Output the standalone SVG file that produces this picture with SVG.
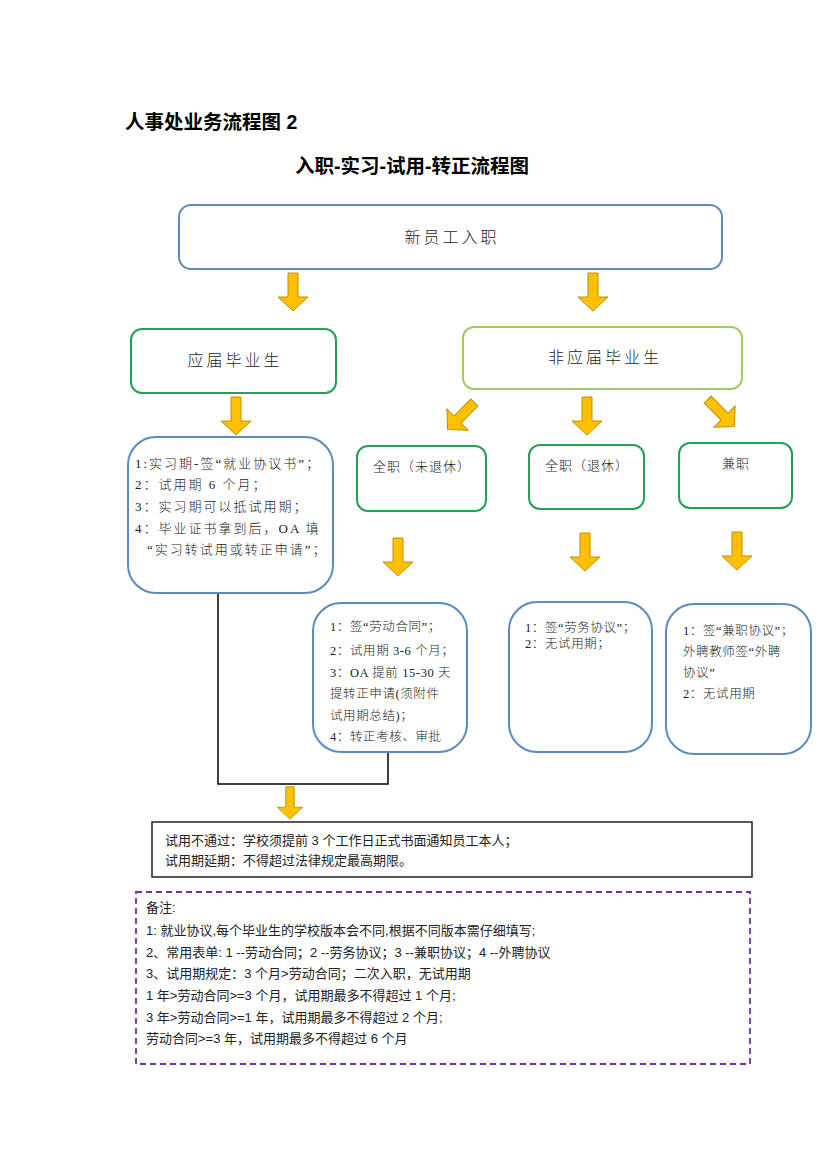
<svg xmlns="http://www.w3.org/2000/svg" width="827" height="1170" viewBox="0 0 827 1170">
<style>
.bg{fill:#ffffff}
.blue{fill:#ffffff;stroke:#5b8cc0;stroke-width:2}
.dg{fill:#ffffff;stroke:#23a055;stroke-width:2}
.lg{fill:#ffffff;stroke:#9dcc63;stroke-width:2}
.title{font-family:"Liberation Sans","Noto Sans CJK SC",sans-serif;font-weight:bold;fill:#000}
.h{font-family:"Liberation Serif","Noto Sans CJK SC",serif;font-size:16px;letter-spacing:3px;fill:#222;text-anchor:middle;font-weight:300}
.m{font-family:"Liberation Serif","Noto Sans CJK SC",serif;font-size:13px;letter-spacing:1px;fill:#222;text-anchor:middle;font-weight:300}
.t1{font-family:"Liberation Serif","Noto Sans CJK SC",serif;font-size:13px;letter-spacing:2px;fill:#222;font-weight:300}
.t2{font-family:"Liberation Serif","Noto Sans CJK SC",serif;font-size:12.5px;letter-spacing:0.6px;fill:#222;font-weight:300}
.s{font-family:"Liberation Sans","Noto Sans CJK SC",sans-serif;font-size:13px;fill:#222}
.conn{fill:none;stroke:#000;stroke-width:1.5}
.arrow{fill:#ffc000;stroke:#bf9000;stroke-width:1}
</style>
<defs>
<path id="arr" class="arrow" d="M-5,-19 H5 V5 H15 L0,19 L-15,5 H-5 Z"/>
</defs>
<rect class="bg" x="0" y="0" width="827" height="1170"/>

<g id="titles">
<text class="title" x="125" y="129" font-size="19.5">人事处业务流程图 2</text>
<text class="title" x="412" y="173" font-size="19.5" text-anchor="middle">入职-实习-试用-转正流程图</text>
</g>

<g id="connectors">
<path class="conn" d="M218,593 V784 H388 V752"/>
<use href="#arr" transform="translate(293,292)"/>
<use href="#arr" transform="translate(593,292)"/>
<use href="#arr" transform="translate(236,416)"/>
<use href="#arr" transform="translate(461,416) rotate(45)"/>
<use href="#arr" transform="translate(587,416)"/>
<use href="#arr" transform="translate(721,413) rotate(-45)"/>
<use href="#arr" transform="translate(398,557)"/>
<use href="#arr" transform="translate(585,552)"/>
<use href="#arr" transform="translate(737,551)"/>
<use href="#arr" transform="translate(290,803) scale(0.85)"/>
</g>

<g id="n-new">
<rect class="blue" x="179" y="205" width="543" height="64" rx="12"/>
<text class="h" x="452" y="243">新员工入职</text>
</g>

<g id="n-grad">
<rect class="dg" x="131" y="329" width="205" height="64" rx="11"/>
<text class="h" x="235" y="366">应届毕业生</text>
</g>

<g id="n-nongrad">
<rect class="lg" x="463" y="327" width="279" height="62" rx="11"/>
<text class="h" x="605" y="363">非应届毕业生</text>
</g>

<g id="n-grad-detail">
<rect class="blue" x="128" y="437" width="205" height="156" rx="28"/>
<text class="t1" x="135" y="468">1:实习期-签“就业协议书”；</text>
<text class="t1" x="135" y="489">2：试用期 6 个月；</text>
<text class="t1" x="135" y="511">3：实习期可以抵试用期；</text>
<text class="t1" x="135" y="533">4：毕业证书拿到后，OA 填</text>
<text class="t1" x="147" y="554">“实习转试用或转正申请”；</text>
</g>

<g id="n-full">
<rect class="dg" x="357" y="446" width="129" height="65" rx="11"/>
<text class="m" x="422" y="471">全职（未退休）</text>
</g>

<g id="n-retired">
<rect class="dg" x="529" y="445" width="115" height="64" rx="11"/>
<text class="m" x="587" y="470">全职（退休）</text>
</g>

<g id="n-part">
<rect class="dg" x="679" y="443" width="113" height="65" rx="11"/>
<text class="m" x="736" y="468">兼职</text>
</g>

<g id="n-full-detail">
<rect class="blue" x="313" y="603" width="154" height="149" rx="28"/>
<text class="t2" x="330" y="631">1：签“劳动合同”；</text>
<text class="t2" x="330" y="655">2：试用期 3-6 个月；</text>
<text class="t2" x="330" y="677">3：OA 提前 15-30 天</text>
<text class="t2" x="330" y="698">提转正申请(须附件</text>
<text class="t2" x="330" y="720">试用期总结)；</text>
<text class="t2" x="330" y="741">4：转正考核、审批</text>
</g>

<g id="n-retired-detail">
<rect class="blue" x="509" y="602" width="143" height="150" rx="28"/>
<text class="t2" x="525" y="632">1：签“劳务协议”；</text>
<text class="t2" x="525" y="648">2：无试用期；</text>
</g>

<g id="n-part-detail">
<rect class="blue" x="666" y="604" width="145" height="150" rx="28"/>
<text class="t2" x="683" y="635">1：签“兼职协议”；</text>
<text class="t2" x="683" y="656">外聘教师签“外聘</text>
<text class="t2" x="683" y="677">协议”</text>
<text class="t2" x="683" y="698">2：无试用期</text>
</g>

<g id="n-result">
<rect x="152" y="822" width="600" height="55" fill="#fff" stroke="#222" stroke-width="1.5"/>
<text class="s" x="165" y="845">试用不通过：学校须提前 3 个工作日正式书面通知员工本人；</text>
<text class="s" x="165" y="865">试用期延期：不得超过法律规定最高期限。</text>
</g>

<g id="n-note">
<rect x="136" y="892" width="614" height="172" fill="#fff" stroke="#7030a0" stroke-width="1.8" stroke-dasharray="6,4"/>
<text class="s" x="146" y="912">备注:</text>
<text class="s" x="146" y="935">1: 就业协议,每个毕业生的学校版本会不同,根据不同版本需仔细填写;</text>
<text class="s" x="146" y="957">2、常用表单: 1 --劳动合同；2 --劳务协议；3 --兼职协议；4 --外聘协议</text>
<text class="s" x="146" y="978">3、试用期规定：3 个月&gt;劳动合同；二次入职，无试用期</text>
<text class="s" x="146" y="1000">1 年&gt;劳动合同&gt;=3 个月，试用期最多不得超过 1 个月;</text>
<text class="s" x="146" y="1022">3 年&gt;劳动合同&gt;=1 年，试用期最多不得超过 2 个月;</text>
<text class="s" x="146" y="1043">劳动合同&gt;=3 年，试用期最多不得超过 6 个月</text>
</g>
</svg>
